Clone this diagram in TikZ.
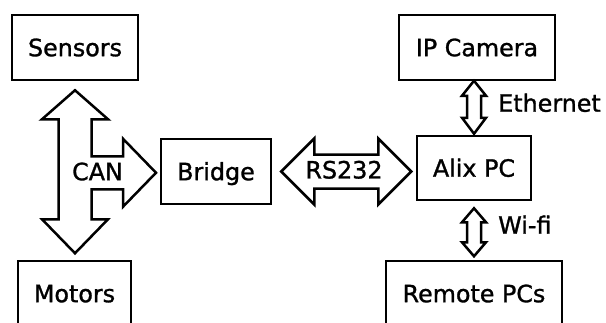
\documentclass[tikz,border=0pt]{standalone}
\usepackage{fontspec}
\setmainfont[FakeBold=1.2]{DejaVu Sans}
\usetikzlibrary{calc}

\begin{document}
\begin{tikzpicture}[x=1pt, y=-1pt, line width=2.5pt,
    txt/.style={font=\fontsize{23.8}{28}\selectfont, text height=17.4pt, text depth=0pt},
    blk/.style={txt, draw, minimum height=65pt, inner sep=0pt},
    fat/.style={draw, line join=miter},
    lbl/.style={txt, inner sep=0pt}]
    \useasboundingbox (0,0) rectangle (606,322);
    \clip (0,0) rectangle (606,322);
    % blocks
    \node[blk, minimum width=126pt] (sensors) at (75,47.5) {Sensors};
    \node[blk, minimum width=113pt] (motors) at (74.5,293.5) {Motors};
    \node[blk, minimum width=110pt] (bridge) at (216,171.5) {Bridge};
    \node[blk, minimum width=114pt, minimum height=64pt] (alix) at (474,168) {Alix PC};
    \node[blk, minimum width=156pt] (camera) at (477,47.5) {IP Camera};
    \node[blk, minimum width=176pt] (remote) at (474,293.5) {Remote PCs};
    % CAN bus
    \draw[fat] ($(sensors.south)+(0,9)$) -- ++(33,29) -- ++(-16.5,0) -- ++(0,37)
      -- ++(31.5,0) -- ++(0,-17.5) -- ++(33,34) -- ++(-33,34) -- ++(0,-17.5)
      -- ++(-31.5,0) -- ++(0,30) -- ++(16.5,0) -- ++(-33,34) -- ++(-33,-34)
      -- ++(16.5,0) -- ++(0,-100) -- ++(-16.5,0) -- cycle;
    \node[lbl] (can) at (97.5,171.5) {CAN};
    % RS232
    \draw[fat] ($(bridge.east)+(9,0)$) -- ++(33,-33) -- ++(0,16) -- ++(64,0)
      -- ++(0,-16) -- ++(33,33) -- ++(-33,33) -- ++(0,-16) -- ++(-64,0)
      -- ++(0,16) -- cycle;
    \node[lbl] (rs) at ($(bridge.east)!0.5!(alix.west)$) {RS232};
    % Ethernet
    \draw[fat] ($(alix.north)+(0,-1)$) -- ++(-12,-16) -- ++(5,0) -- ++(0,-22)
      -- ++(-5,0) -- ++(12,-15) -- ++(12,15) -- ++(-5,0) -- ++(0,22)
      -- ++(5,0) -- cycle;
    \node[lbl, anchor=west] (eth) at (497,103) {Ethernet};
    % Wi-fi
    \draw[fat] ($(alix.south)+(0,7)$) -- ++(-12,14) -- ++(5,0) -- ++(0,20)
      -- ++(-5,0) -- ++(12,14) -- ++(12,-14) -- ++(-5,0) -- ++(0,-20)
      -- ++(5,0) -- cycle;
    \node[lbl, anchor=west] (wifi) at (497,225) {Wi-fi};
\end{tikzpicture}
\end{document}
